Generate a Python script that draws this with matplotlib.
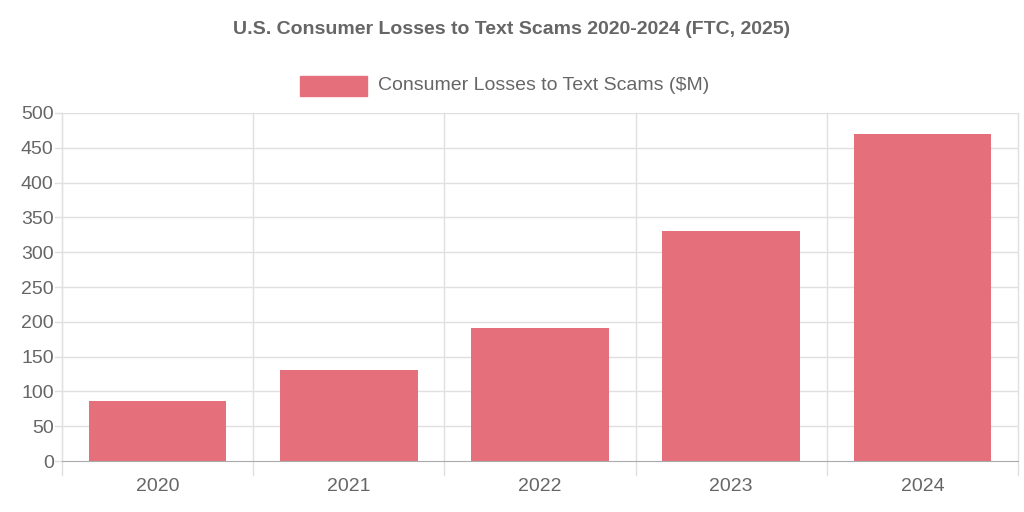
import matplotlib.pyplot as plt
from matplotlib.patches import Rectangle

plt.rcParams['font.family'] = ['Liberation Sans', 'DejaVu Sans']

years = ['2020', '2021', '2022', '2023', '2024']
losses = [86, 131, 191, 330, 470]
series_label = 'Consumer Losses to Text Scams ($M)'
title = 'U.S. Consumer Losses to Text Scams 2020-2024 (FTC, 2025)'

bar_color = '#e66f7c'
text_color = '#666666'
grid_color = '#e0e0e0'

fig = plt.figure(figsize=(10.24, 5.12), dpi=100)
ax = fig.add_axes([62 / 1024, 51 / 512, 956 / 1024, 348 / 512])

x = range(len(years))
ax.bar(x, losses, width=0.72, color=bar_color, zorder=2)

ax.set_xlim(-0.5, len(years) - 0.5)
ax.set_ylim(0, 500)
ax.set_yticks(range(0, 501, 50))
ax.set_xticks(list(x))
ax.set_xticklabels(years)
ax.tick_params(axis='both', colors=text_color, labelsize=14, length=0)
ax.tick_params(axis='y', pad=6)
ax.tick_params(axis='x', pad=12)

# horizontal grid lines with small tick stubs to the left of the axis
for v in range(50, 501, 50):
    ax.axhline(v, color=grid_color, lw=1, zorder=1)
    ax.plot([-0.5 - 0.035, -0.5], [v, v], color=grid_color, lw=1, clip_on=False)
ax.plot([-0.5 - 0.035, -0.5], [0, 0], color=grid_color, lw=1, clip_on=False)

# vertical grid lines at category boundaries, extending below the axis
for b in [i + 0.5 for i in range(len(years) - 1)] + [-0.5, len(years) - 0.5]:
    ax.plot([b, b], [-20, 500], color=grid_color, lw=1, zorder=1, clip_on=False)

for side in ['top', 'right']:
    ax.spines[side].set_visible(False)
ax.spines['left'].set_color(grid_color)
ax.spines['bottom'].set_color('#aaaaaa')

fig.text(0.5, 1 - 30 / 512, title, ha='center', va='center',
         fontsize=14, fontweight='bold', color=text_color)

# legend
fig.patches.append(Rectangle((300 / 1024, 1 - 96 / 512), 67 / 1024, 20 / 512,
                             transform=fig.transFigure, color=bar_color))
fig.text(378 / 1024, 1 - 86 / 512, series_label, ha='left', va='center',
         fontsize=14, color=text_color)

fig.savefig('out.png', dpi=100)
